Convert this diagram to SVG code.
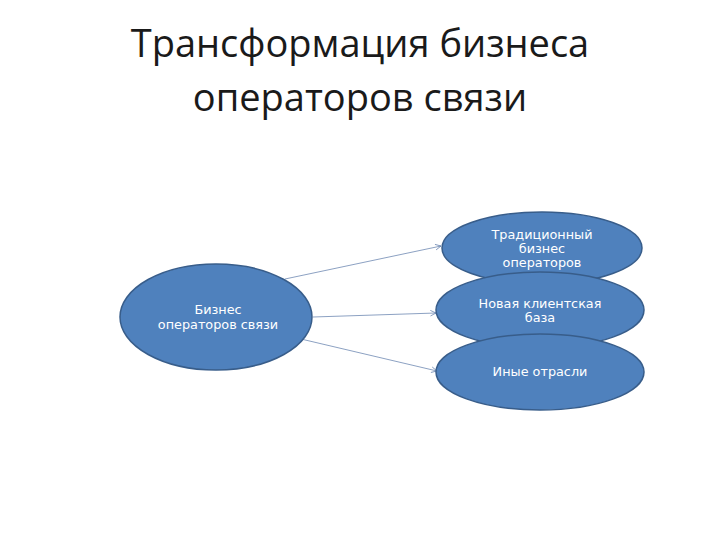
<svg xmlns="http://www.w3.org/2000/svg" width="720" height="540" viewBox="0 0 720 540">
<style>
.title{font-family:"Open Sans","Liberation Sans",sans-serif;font-size:38px;fill:#1a1a1a;text-anchor:middle}
.node{fill:#4f81bd;stroke:#385d8a;stroke-width:1.5}
.lbl{font-family:"DejaVu Sans","Liberation Sans",sans-serif;font-size:12.8px;fill:#ffffff;text-anchor:middle}
.edge{stroke:#5a78a8;stroke-width:0.7;fill:none;marker-end:url(#arr)}
</style>
<defs>
<marker id="arr" viewBox="0 0 10 10" refX="9" refY="5" markerWidth="7" markerHeight="7" orient="auto" markerUnits="userSpaceOnUse">
<path d="M1,1 L9,5 L1,9" fill="none" stroke="#5a78a8" stroke-width="1"/>
</marker>
</defs>
<rect width="720" height="540" fill="#ffffff"/>
<text class="title" x="360" y="57">Трансформация бизнеса</text>
<text class="title" x="360" y="111">операторов связи</text>
<g id="connectors">
<line class="edge" x1="285" y1="279" x2="441" y2="246"/>
<line class="edge" x1="313" y1="317" x2="436" y2="313"/>
<line class="edge" x1="301" y1="339" x2="437" y2="371"/>
</g>
<g id="n_src">
<ellipse class="node" cx="216" cy="317" rx="96" ry="53"/>
<text class="lbl" x="218" y="314">Бизнес</text>
<text class="lbl" x="218" y="329">операторов связи</text>
</g>
<g id="n_trad">
<ellipse class="node" cx="542" cy="248" rx="100" ry="36"/>
<text class="lbl" x="542" y="239">Традиционный</text>
<text class="lbl" x="542" y="253">бизнес</text>
<text class="lbl" x="542" y="267">операторов</text>
</g>
<g id="n_new">
<ellipse class="node" cx="540" cy="310" rx="104" ry="38"/>
<text class="lbl" x="540" y="308">Новая клиентская</text>
<text class="lbl" x="540" y="322">база</text>
</g>
<g id="n_other">
<ellipse class="node" cx="540" cy="372" rx="104" ry="38"/>
<text class="lbl" x="540" y="376">Иные отрасли</text>
</g>
</svg>
